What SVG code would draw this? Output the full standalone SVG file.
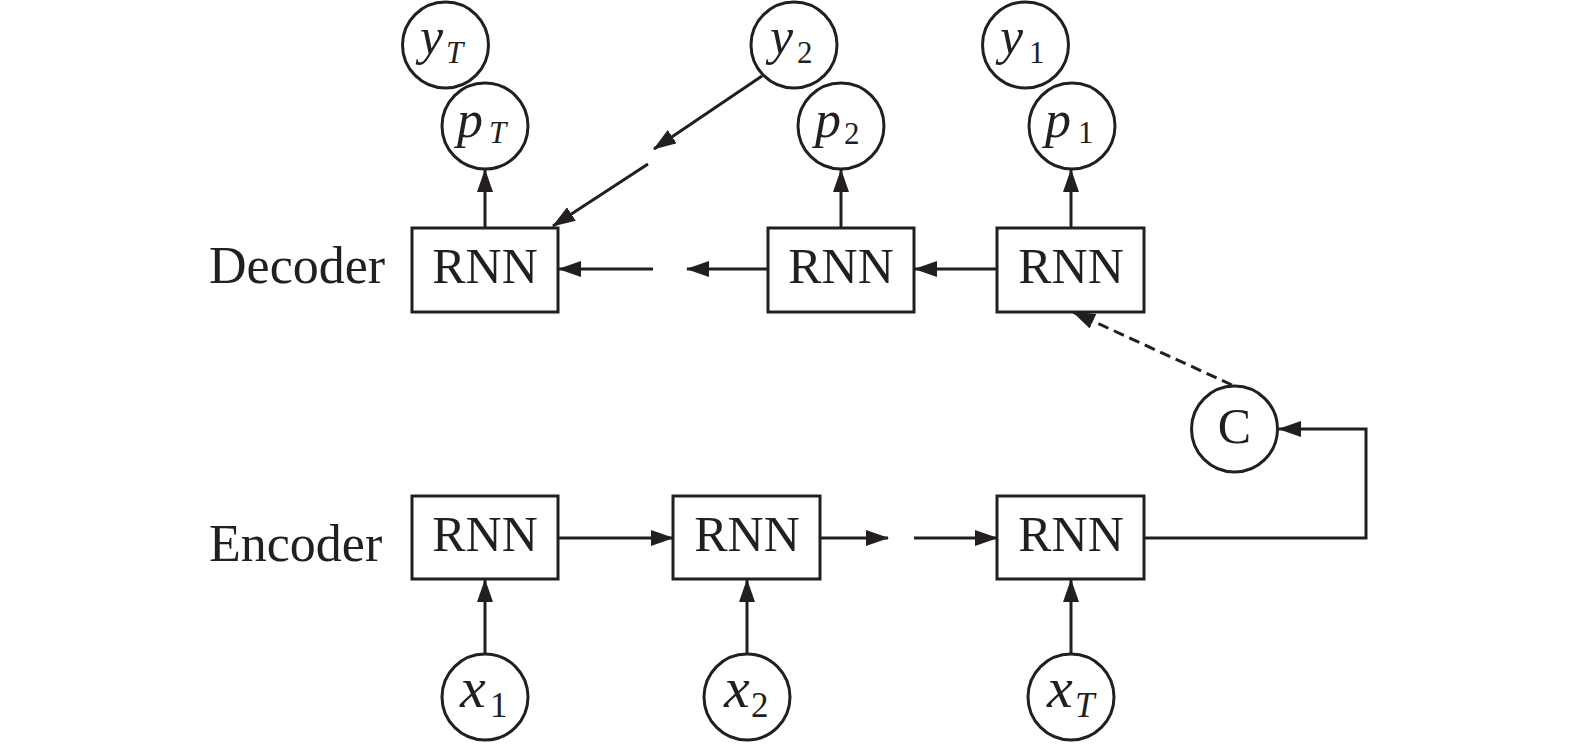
<svg xmlns="http://www.w3.org/2000/svg" width="1575" height="744" viewBox="0 0 1575 744">
<style>
.box{fill:#fff;stroke:#231f20;stroke-width:3}
.cir{fill:#fff;stroke:#231f20;stroke-width:3}
.ln{fill:none;stroke:#231f20;stroke-width:3}
.dash{stroke-dasharray:11 6}
.t{font-family:"Liberation Serif","Times New Roman",serif;fill:#231f20}
.lab{font-size:52px}
.rnn{font-size:50px;text-anchor:middle}
.vy{font-size:52px;font-style:italic}
.sy{font-size:31px}
.si{font-style:italic}
.vx{font-size:58px;font-style:italic}
.sx{font-size:35px}
</style>
<defs>
<marker id="ah" viewBox="0 0 23 16" markerWidth="23" markerHeight="16" refX="22" refY="8" orient="auto" markerUnits="userSpaceOnUse">
<path d="M0,0 L23,8 L0,16 z" fill="#231f20"/>
</marker>
</defs>
<rect width="1575" height="744" fill="#fff"/>

<g id="connectors">
<line class="ln" x1="485" y1="228" x2="485" y2="170" marker-end="url(#ah)"/>
<line class="ln" x1="841" y1="228" x2="841" y2="170" marker-end="url(#ah)"/>
<line class="ln" x1="1071" y1="228" x2="1071" y2="170" marker-end="url(#ah)"/>
<line class="ln" x1="762" y1="76" x2="654" y2="149" marker-end="url(#ah)"/>
<line class="ln" x1="648" y1="164" x2="553" y2="226" marker-end="url(#ah)"/>
<line class="ln" x1="997" y1="269" x2="915" y2="269" marker-end="url(#ah)"/>
<line class="ln" x1="768" y1="269" x2="687" y2="269" marker-end="url(#ah)"/>
<line class="ln" x1="653" y1="269" x2="559" y2="269" marker-end="url(#ah)"/>
<line class="ln dash" x1="1232" y1="385" x2="1073" y2="312" marker-end="url(#ah)"/>
<line class="ln" x1="558" y1="538" x2="673" y2="538" marker-end="url(#ah)"/>
<line class="ln" x1="820" y1="538" x2="888" y2="538" marker-end="url(#ah)"/>
<line class="ln" x1="914" y1="538" x2="997" y2="538" marker-end="url(#ah)"/>
<polyline class="ln" points="1144,538 1366,538 1366,429 1279,429" marker-end="url(#ah)"/>
<line class="ln" x1="485" y1="654" x2="485" y2="580" marker-end="url(#ah)"/>
<line class="ln" x1="747" y1="654" x2="747" y2="580" marker-end="url(#ah)"/>
<line class="ln" x1="1071" y1="654" x2="1071" y2="580" marker-end="url(#ah)"/>
</g>

<g id="label-decoder"><text class="t lab" x="209" y="283">Decoder</text></g>
<g id="label-encoder"><text class="t lab" x="209" y="561">Encoder</text></g>

<g id="dec1"><rect class="box" x="412" y="228" width="146" height="84"/><text class="t rnn" x="485" y="283">RNN</text></g>
<g id="dec2"><rect class="box" x="768" y="228" width="146" height="84"/><text class="t rnn" x="841" y="283">RNN</text></g>
<g id="dec3"><rect class="box" x="997" y="228" width="147" height="84"/><text class="t rnn" x="1071" y="283">RNN</text></g>

<g id="enc1"><rect class="box" x="412" y="496" width="146" height="83"/><text class="t rnn" x="485" y="551">RNN</text></g>
<g id="enc2"><rect class="box" x="673" y="496" width="147" height="83"/><text class="t rnn" x="747" y="551">RNN</text></g>
<g id="enc3"><rect class="box" x="997" y="496" width="147" height="83"/><text class="t rnn" x="1071" y="551">RNN</text></g>

<g id="yT"><circle class="cir" cx="445.5" cy="45" r="43"/><text class="t"><tspan class="vy" x="420" y="54">y</tspan><tspan class="sy si" x="446" y="63">T</tspan></text></g>
<g id="pT"><circle class="cir" cx="485" cy="126" r="43"/><text class="t"><tspan class="vy" x="457" y="137">p</tspan><tspan class="sy si" x="489" y="143">T</tspan></text></g>
<g id="y2"><circle class="cir" cx="794" cy="45" r="43"/><text class="t"><tspan class="vy" x="770" y="54">y</tspan><tspan class="sy" x="797" y="63">2</tspan></text></g>
<g id="p2"><circle class="cir" cx="841" cy="126" r="43"/><text class="t"><tspan class="vy" x="815" y="137">p</tspan><tspan class="sy" x="844" y="144">2</tspan></text></g>
<g id="y1"><circle class="cir" cx="1025.5" cy="45" r="43"/><text class="t"><tspan class="vy" x="1000" y="54">y</tspan><tspan class="sy" x="1029" y="63">1</tspan></text></g>
<g id="p1"><circle class="cir" cx="1072" cy="126" r="43"/><text class="t"><tspan class="vy" x="1045" y="137">p</tspan><tspan class="sy" x="1078" y="143">1</tspan></text></g>

<g id="C"><circle class="cir" cx="1234.5" cy="429" r="43"/><text class="t" x="1234.5" y="443" font-size="50" text-anchor="middle">C</text></g>

<g id="x1"><circle class="cir" cx="485" cy="697" r="43"/><text class="t"><tspan class="vx" x="460" y="707">x</tspan><tspan class="sx" x="490" y="717">1</tspan></text></g>
<g id="x2"><circle class="cir" cx="747" cy="697" r="43"/><text class="t"><tspan class="vx" x="724" y="707">x</tspan><tspan class="sx" x="751" y="717">2</tspan></text></g>
<g id="xT"><circle class="cir" cx="1071" cy="697" r="43"/><text class="t"><tspan class="vx" x="1047" y="707">x</tspan><tspan class="sx si" x="1075" y="717">T</tspan></text></g>
</svg>
